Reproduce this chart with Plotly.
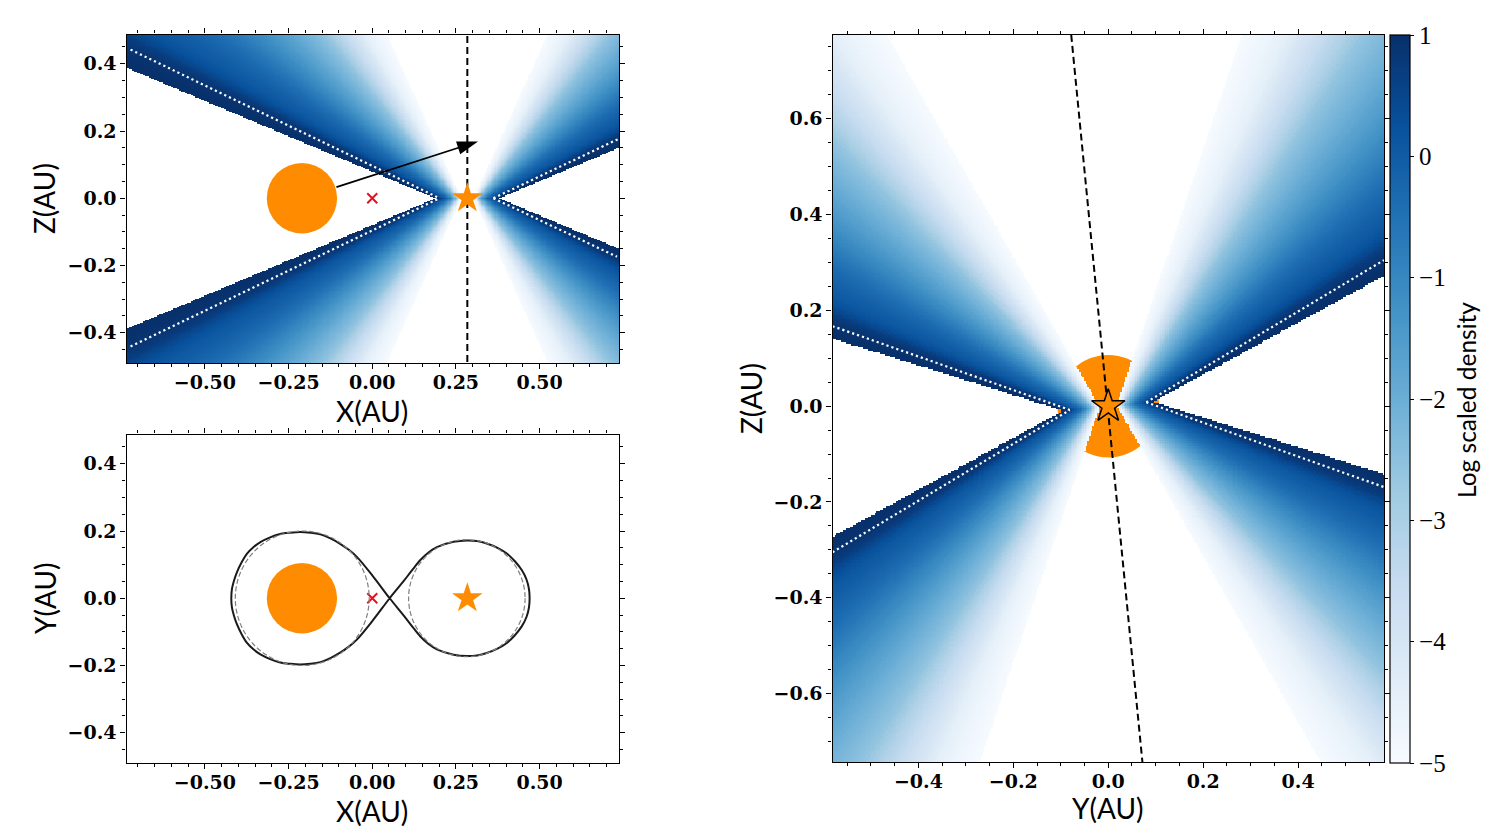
"""Wind density cross sections of a binary, with the Roche lobes and the colour scale"""
import numpy as np
import plotly.graph_objects as go

# log density of the wind, one value per half degree of streamline angle, starting at 22 deg
density_start_angle = 22
density_by_angle = [
    1.0, 1.0, 1.0, 0.98, 0.96, 0.94, 0.91, 0.87, 0.82, 0.74,
    0.65, 0.52, 0.40, 0.30, 0.22, 0.15, 0.09, 0.04, 0.0, -0.05,
    -0.10, -0.15, -0.20, -0.25, -0.30, -0.35, -0.40, -0.47, -0.54, -0.61,
    -0.68, -0.75, -0.82, -0.89, -0.96, -1.03, -1.10, -1.17, -1.24, -1.31,
    -1.38, -1.45, -1.52, -1.59, -1.66, -1.73, -1.80, -1.87, -1.94, -2.01,
    -2.08, -2.14, -2.20, -2.26, -2.32, -2.39, -2.46, -2.53, -2.60, -2.72,
    -2.84, -2.96, -3.08, -3.18, -3.28, -3.38, -3.48, -3.58, -3.68, -3.78,
    -3.88, -3.98, -4.08, -4.18, -4.28, -4.38, -4.48, -4.53, -4.58, -4.63,
    -4.68, -4.73, -4.78, -4.83, -4.87, -4.91, -4.95, -4.98,
]
wind_inner_angle = 22.8
wind_outer_angle = 65.6
wind_focus = 0.04
tilt_deg = 5.6

secondary_x = 0.284
primary_x = -0.21
primary_radius = 0.105
primary_radius_yz = 0.107

xz_dotted = [
    ([-0.722, 0.201], [0.442, 0.0]),
    ([-0.722, 0.201], [-0.441, 0.0]),
    ([0.362, 0.737], [0.0, 0.177]),
    ([0.362, 0.731], [0.0, -0.174]),
]
yz_dotted = [
    ([-0.581, -0.081], [0.167, -0.008]),
    ([-0.581, -0.081], [-0.305, -0.008]),
    ([0.08, 0.581], [0.008, 0.305]),
    ([0.08, 0.581], [0.008, -0.169]),
]
xz_axis_x = [0.284, 0.284]
xz_axis_z = [-0.487, 0.487]
yz_axis_y = [-0.078, 0.072]
yz_axis_z = [0.775, -0.743]
arrow_x = [-0.107, 0.316]
arrow_z = [0.033, 0.169]

lobe_x = [
    0.052, 0.093, 0.118, 0.143, 0.168, 0.193, 0.243, 0.283, 0.313, 0.342, 0.374, 0.402, 0.426, 0.447, 0.461, 0.468, 0.470,
    0.468, 0.461, 0.447, 0.426, 0.402, 0.374, 0.342, 0.313, 0.283, 0.243, 0.193, 0.168, 0.143, 0.118, 0.093, 0.052,
    0.004, -0.046, -0.070, -0.096, -0.125, -0.155, -0.185, -0.215, -0.245, -0.275, -0.305, -0.334, -0.355,
    -0.374, -0.390, -0.404, -0.413, -0.419, -0.421,
    -0.419, -0.413, -0.404, -0.390, -0.374, -0.355, -0.334, -0.305, -0.275, -0.245, -0.215, -0.185, -0.155, -0.125,
    -0.096, -0.070, -0.046, 0.004, 0.052,
]
lobe_y = [
    0.0, 0.050, 0.082, 0.113, 0.136, 0.152, 0.168, 0.172, 0.170, 0.163, 0.150, 0.133, 0.110, 0.083, 0.055, 0.028, 0.0,
    -0.028, -0.055, -0.083, -0.110, -0.133, -0.150, -0.163, -0.170, -0.172, -0.168, -0.152, -0.136, -0.113, -0.082, -0.050, 0.0,
    0.063, 0.123, 0.144, 0.162, 0.178, 0.190, 0.195, 0.197, 0.195, 0.191, 0.181, 0.167, 0.152,
    0.133, 0.107, 0.078, 0.052, 0.028, 0.0,
    -0.028, -0.052, -0.078, -0.107, -0.133, -0.152, -0.167, -0.181, -0.191, -0.195, -0.197, -0.195, -0.190, -0.178,
    -0.162, -0.144, -0.123, -0.063, 0.0,
]
# dashed circles: centre, radius
orbit_circles = [(-0.209, 0.2), (0.2825, 0.174)]

blues = ['#f7fbff', '#deebf7', '#c6dbef', '#9ecae1', '#6baed6', '#4292c6', '#2171b5', '#08519c', '#08306b']
colorbar_ticks = [1, 0, -1, -2, -3, -4, -5]

WIDTH, HEIGHT = 1498, 838
ORANGE = 'darkorange'
TICK_FONT = {'family': 'DejaVu Serif', 'size': 19, 'weight': 700, 'color': 'black'}
TITLE_FONT = {'family': 'Lato', 'size': 28, 'color': 'black'}
CELL = 0.0035


def density_grid(x_grid, z_grid, centre, tilt):
    """Look up the density of each grid cell from the angle of its streamline"""
    xx, zz = np.meshgrid(x_grid - centre, z_grid)
    alpha = np.radians(tilt)
    u = xx * np.cos(alpha) + zz * np.sin(alpha)
    v = -xx * np.sin(alpha) + zz * np.cos(alpha)
    angle = np.degrees(np.arctan2(np.abs(v) + wind_focus, np.abs(u)))
    table = np.array(density_by_angle, dtype='float32')
    index = np.clip(np.floor(angle * 2).astype(int) - density_start_angle * 2, 0, len(table) - 1)
    grid = table[index]
    grid[(angle < wind_inner_angle) | (angle > wind_outer_angle)] = np.nan
    return grid


def domain_x(left, right):
    return [left / WIDTH, right / WIDTH]


def domain_y(top, bottom):
    return [1 - bottom / HEIGHT, 1 - top / HEIGHT]


def axis_style(domain, limits, dtick, fmt, label_shift=0):
    return {
        'domain': domain, 'range': limits,
        'tick0': 0, 'dtick': dtick, 'tickformat': fmt, 'tickfont': TICK_FONT, 'ticklabelstandoff': label_shift,
        'ticks': 'outside', 'ticklen': 5, 'tickwidth': 1.2, 'tickcolor': 'black',
        'minor': {'ticks': 'outside', 'ticklen': 3, 'tickwidth': 1, 'tickcolor': 'black', 'dtick': 0.05, 'tick0': 0},
        'showgrid': False, 'zeroline': False, 'showline': True, 'linecolor': 'black', 'linewidth': 1.4,
        'mirror': 'ticks',
    }


def add_circle(fig, xref, yref, cx, cy, radius, **kwargs):
    fig.add_shape(type='circle', xref=xref, yref=yref,
                  x0=cx - radius, x1=cx + radius, y0=cy - radius, y1=cy + radius, **kwargs)


def add_label(fig, text, px, py, angle=0, font=TITLE_FONT):
    """Place a text by its centre, given in page pixels"""
    fig.add_annotation(x=px / WIDTH, y=1 - py / HEIGHT, xref='paper', yref='paper', text=text, font=font,
                       xanchor='center', yanchor='middle', textangle=angle, showarrow=False, borderpad=0)


fig = go.Figure()

# top left: X-Z cut
xz_x = np.arange(-0.74, 0.745, CELL)
xz_z = np.arange(-0.49, 0.495, CELL)
fig.add_trace(go.Heatmap(x=xz_x, y=xz_z, z=density_grid(xz_x, xz_z, secondary_x, 0),
                         coloraxis='coloraxis', hoverinfo='skip', xaxis='x', yaxis='y'))
# right: Y-Z cut
yz_y = np.arange(-0.585, 0.59, CELL)
yz_z = np.arange(-0.75, 0.785, CELL)
fig.add_trace(go.Heatmap(x=yz_y, y=yz_z, z=density_grid(yz_y, yz_z, 0, tilt_deg),
                         coloraxis='coloraxis', hoverinfo='skip', xaxis='x3', yaxis='y3'))

dots = {'color': 'white', 'width': 2.2, 'dash': '2.2px,3px'}
for xs, zs in xz_dotted:
    fig.add_trace(go.Scatter(x=xs, y=zs, mode='lines', line=dots, xaxis='x', yaxis='y'))
for ys, zs in yz_dotted:
    fig.add_trace(go.Scatter(x=ys, y=zs, mode='lines', line=dots, xaxis='x3', yaxis='y3'))

dashes = {'color': 'black', 'width': 2, 'dash': '7px,4px'}
fig.add_trace(go.Scatter(x=xz_axis_x, y=xz_axis_z, mode='lines', line=dashes, xaxis='x', yaxis='y'))
fig.add_trace(go.Scatter(x=yz_axis_y, y=yz_axis_z, mode='lines', line=dashes, xaxis='x3', yaxis='y3'))

fig.add_trace(go.Scatter(x=arrow_x, y=arrow_z, mode='lines+markers', xaxis='x', yaxis='y',
                         line={'color': 'black', 'width': 1.8},
                         marker={'symbol': ['circle', 'arrow'], 'size': [1, 22], 'color': 'black', 'opacity': 1,
                                 'angleref': 'previous', 'line': {'width': 0}}))

fig.add_trace(go.Scatter(x=lobe_x, y=lobe_y, mode='lines', xaxis='x2', yaxis='y2',
                         line={'color': '#1a1a1a', 'width': 2, 'shape': 'spline', 'smoothing': 1}))

for xaxis, yaxis in (('x', 'y'), ('x2', 'y2')):
    fig.add_trace(go.Scatter(x=[0], y=[0], mode='markers', xaxis=xaxis, yaxis=yaxis, marker={
        'symbol': 'x-thin', 'size': 10, 'line': {'color': '#e8101c', 'width': 2}}))
    fig.add_trace(go.Scatter(x=[secondary_x], y=[0], mode='markers', xaxis=xaxis, yaxis=yaxis, marker={
        'symbol': 'star', 'size': 23, 'color': ORANGE, 'line': {'width': 0}}))
fig.add_trace(go.Scatter(x=[0], y=[0], mode='markers', xaxis='x3', yaxis='y3', marker={
    'symbol': 'star', 'size': 25, 'color': ORANGE, 'line': {'color': 'black', 'width': 1.5}}))

add_circle(fig, 'x', 'y', primary_x, 0, primary_radius, fillcolor=ORANGE, line_width=0, layer='above')
add_circle(fig, 'x2', 'y2', primary_x, 0, primary_radius, fillcolor=ORANGE, line_width=0, layer='above')
add_circle(fig, 'x3', 'y3', 0, 0, primary_radius_yz, fillcolor=ORANGE, line_width=0, layer='below')
for cx, radius in orbit_circles:
    add_circle(fig, 'x2', 'y2', cx, 0, radius, line={'color': 'gray', 'width': 1.2, 'dash': '5px,2.5px'})

add_label(fig, 'X(AU)', 372, 411)
add_label(fig, 'X(AU)', 372, 811)
add_label(fig, 'Y(AU)', 1108, 808)
add_label(fig, 'Z(AU)', 44, 199, -90)
add_label(fig, 'Y(AU)', 45, 598, -90)
add_label(fig, 'Z(AU)', 751, 399, -90)
add_label(fig, 'Log scaled density', 1467, 400, -90, {'family': 'Lato', 'size': 24.5, 'color': 'black'})

fig.update_layout(
    width=WIDTH, height=HEIGHT, margin={'l': 0, 'r': 0, 't': 0, 'b': 0},
    paper_bgcolor='white', plot_bgcolor='white', showlegend=False,
    xaxis=axis_style(domain_x(126.5, 619), [-0.734, 0.737], 0.25, '.2f', -3) | {'anchor': 'y'},
    yaxis=axis_style(domain_y(34.5, 363), [-0.49, 0.487], 0.2, '.1f') | {'anchor': 'x'},
    xaxis2=axis_style(domain_x(126.5, 619), [-0.734, 0.737], 0.25, '.2f', -3) | {'anchor': 'y2'},
    yaxis2=axis_style(domain_y(434.5, 763), [-0.49, 0.487], 0.2, '.1f') | {'anchor': 'x2'},
    xaxis3=axis_style(domain_x(832.5, 1384), [-0.581, 0.581], 0.2, '.1f', -3) | {'anchor': 'y3'},
    yaxis3=axis_style(domain_y(35, 762), [-0.743, 0.775], 0.2, '.1f') | {'anchor': 'x3'},
    coloraxis={
        'cmin': -5, 'cmax': 1,
        'colorscale': [[i / (len(blues) - 1), c] for i, c in enumerate(blues)],
        'colorbar': {
            'x': 1390 / WIDTH, 'xanchor': 'left', 'xref': 'paper', 'y': 1 - 763 / HEIGHT, 'yanchor': 'bottom',
            'yref': 'paper', 'len': 728, 'lenmode': 'pixels', 'thickness': 20, 'thicknessmode': 'pixels',
            'xpad': 0, 'ypad': 0, 'outlinewidth': 1.2, 'outlinecolor': 'black',
            'tickvals': colorbar_ticks, 'ticks': 'outside', 'ticklen': 4, 'tickwidth': 1.2, 'tickcolor': 'black',
            'tickfont': {'family': 'Liberation Serif', 'size': 25, 'color': 'black'},
        },
    },
)

fig.write_html('out.html', config={'displayModeBar': False}, post_script="document.body.style.margin='0';")
